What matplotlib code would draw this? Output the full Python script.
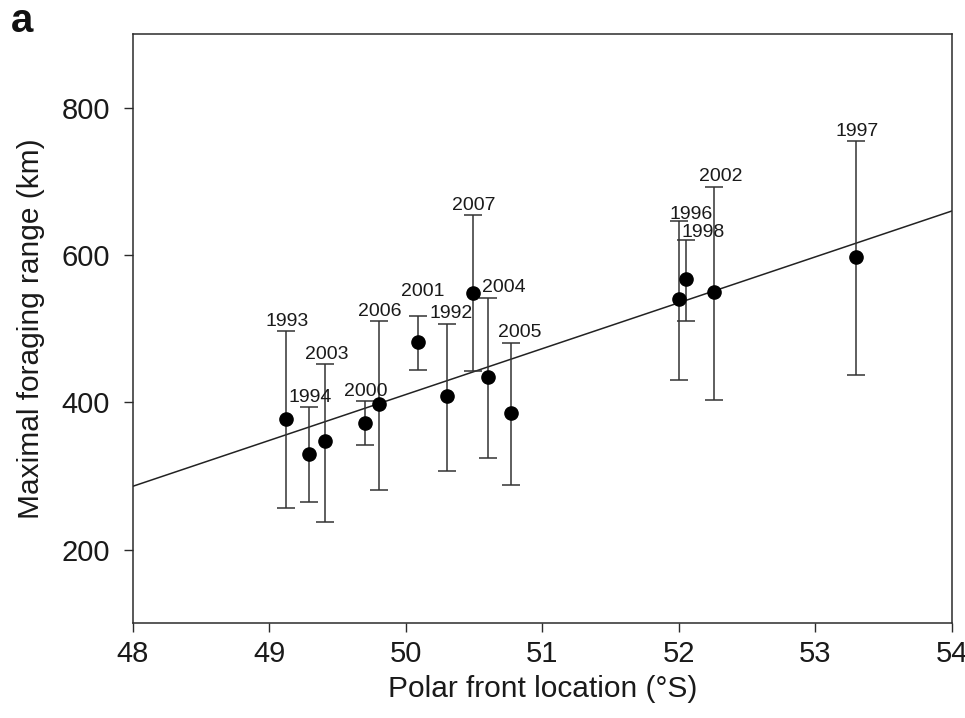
import matplotlib
matplotlib.use("Agg")
import matplotlib.pyplot as plt

# values
years = [1993, 1994, 2003, 2000, 2006, 2001, 1992, 2007, 2004, 2005, 1996, 1998, 2002, 1997]
front = [49.12, 49.29, 49.41, 49.70, 49.80, 50.09, 50.30, 50.49, 50.60, 50.77, 52.00, 52.05, 52.26, 53.30]
forage = [378, 330, 347, 372, 398, 482, 408, 549, 434, 385, 540, 567, 550, 598]
upper = [497, 393, 452, 402, 510, 517, 506, 655, 542, 480, 646, 620, 693, 755]
lower = [256, 264, 238, 342, 281, 444, 307, 442, 324, 287, 431, 510, 403, 437]

# regression line ends
line_x = [48, 54]
line_y = [286, 660]

# label nudges in pixels (dx, gap above cap)
nudge = {2001: (5, 20), 2004: (16, 6), 2005: (9, 6), 1996: (12, 2),
         1998: (18, 3), 2002: (6, 6), 1992: (4, 6)}

plt.rcParams['font.family'] = ['Liberation Sans', 'DejaVu Sans']
px = 0.72  # points per pixel at dpi 100

fig = plt.figure(figsize=(9.65, 7.18), dpi=100)
ax = fig.add_axes([0.1378, 0.1322, 0.8484, 0.8198])

dark = '#2b2b2b'
ax.plot(line_x, line_y, color='#222222', lw=1.1, zorder=2)

yerr = [[f - l for f, l in zip(forage, lower)], [u - f for f, u in zip(forage, upper)]]
ax.errorbar(front, forage, yerr=yerr, fmt='o', color='black', ms=9.5,
            ecolor='#333333', elinewidth=1.1, capsize=6.5, capthick=1.1, zorder=3)

for yr, x, u in zip(years, front, upper):
    dx, dy = nudge.get(yr, (1, 5))
    ax.annotate(str(yr), (x, u), xytext=(dx * px, dy * px), textcoords='offset points',
                ha='center', va='baseline', fontsize=14, color='#1a1a1a')

ax.set_xlim(48, 54)
ax.set_ylim(100, 900)
ax.set_xticks([48, 49, 50, 51, 52, 53, 54])
ax.set_yticks([200, 400, 600, 800])
ax.tick_params(direction='out', length=6.5, width=1.0, colors=dark, labelsize=21,
               labelcolor='#1a1a1a')
ax.tick_params(axis='x', pad=6)
ax.tick_params(axis='y', pad=10)
for s in ax.spines.values():
    s.set_color(dark)
    s.set_linewidth(1.1)

ax.set_xlabel('Polar front location (°S)', fontsize=21.5, color='#1a1a1a', labelpad=5)
ax.set_ylabel('Maximal foraging range (km)', fontsize=21.5, color='#1a1a1a', labelpad=12)

fig.text(0.011, 0.955, 'a', fontsize=29, fontweight='bold', color='#111111')

fig.savefig('out.png', dpi=100)
